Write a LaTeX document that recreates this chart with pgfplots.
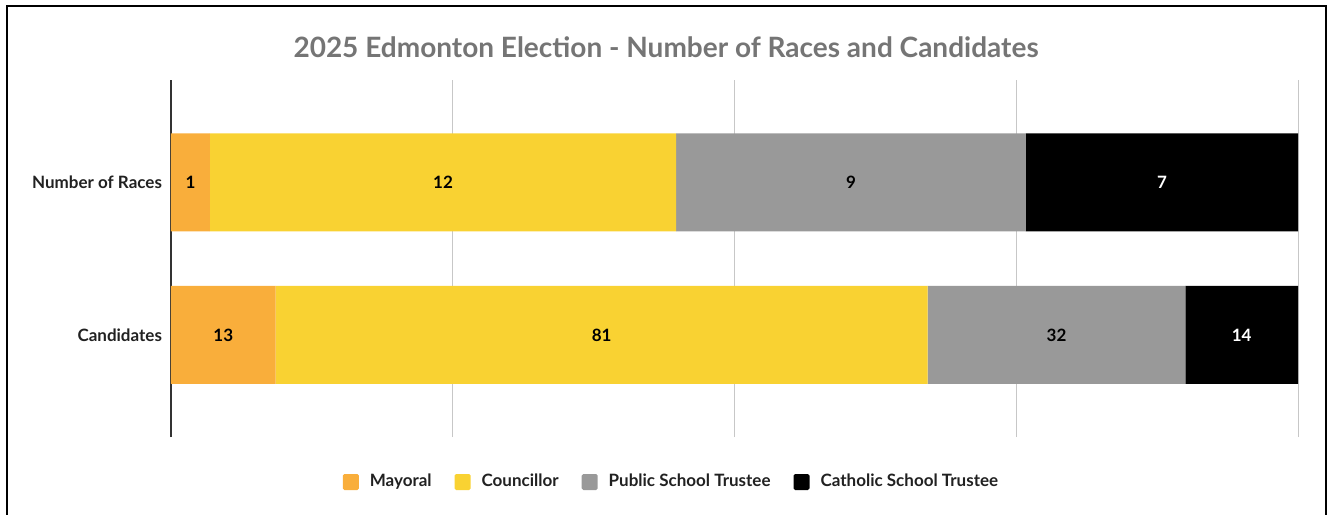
\documentclass[border=0pt]{standalone}
\usepackage{pgfplots}
\pgfplotsset{compat=1.18}
\usepackage{fontspec}
\setmainfont{Lato}

\definecolor{mayoral}{HTML}{F9AE3B}
\definecolor{councillor}{HTML}{F9D232}
\definecolor{public}{HTML}{999999}
\definecolor{catholic}{HTML}{000000}
\definecolor{titlegray}{HTML}{757575}
\definecolor{textdark}{HTML}{212121}

% shares of each row (%), counts shown as labels
% Number of Races: 1, 12, 9, 7 (of 29)
% Candidates: 13, 81, 32, 14 (of 140)

\begin{document}
\begin{tikzpicture}
  \path[use as bounding box] (0,0) rectangle (666.5pt,-257pt);
  \draw[line width=1pt] (3.25pt,-270pt) -- (3.25pt,-2.75pt) -- (662.75pt,-2.75pt) -- (662.75pt,-270pt);
  \node[font=\bfseries\fontsize{14}{16}\selectfont, text=titlegray] at (333pt,-23.5pt)
    {2025 Edmonton Election - Number of Races and Candidates};

  \pgfplotsset{
    base/.style={
      at={(85.5pt,-218.5pt)}, anchor=south west,
      scale only axis, width=563.5pt, height=178.5pt,
      xmin=0, xmax=100, ymin=-0.669, ymax=1.672,
    },
  }

  \begin{axis}[
      base,
      xbar stacked,
      bar width=49pt,
      axis y line*=left,
      axis x line*=bottom,
      x axis line style={draw=none},
      y axis line style={draw=black!80, line width=0.6pt},
      xtick={0,25,50,75,100},
      xticklabels={},
      major tick length=0pt,
      xmajorgrids=true,
      grid style={black!22, line width=0.5pt},
      ytick={0,1},
      yticklabels={Candidates, Number of Races},
      yticklabel style={font=\bfseries\fontsize{8.5}{10}\selectfont, text=textdark, xshift=-1pt},
      legend columns=4,
      legend style={
        at={(rel axis cs:0.5,0)}, anchor=center, xshift=-31pt, yshift=-22.5pt,
        draw=none, fill=none,
        font=\bfseries\fontsize{8.5}{10}\selectfont, text=textdark,
        /tikz/every even column/.append style={column sep=9.5pt},
      },
      legend image code/.code={\fill[#1, rounded corners=0.8pt] (0pt,-4pt) rectangle (8pt,4pt);},
      legend cell align=left,
    ]
    \addplot[fill=mayoral, draw=none] coordinates {(3.448,1) (9.286,0)};
    \addlegendentry{\hspace{3.5pt}Mayoral}
    \addplot[fill=councillor, draw=none] coordinates {(41.379,1) (57.857,0)};
    \addlegendentry{\hspace{3.5pt}Councillor}
    \addplot[fill=public, draw=none] coordinates {(31.034,1) (22.857,0)};
    \addlegendentry{\hspace{3.5pt}Public School Trustee}
    \addplot[fill=catholic, draw=none] coordinates {(24.138,1) (10.000,0)};
    \addlegendentry{\hspace{3.5pt}Catholic School Trustee}
  \end{axis}

  \begin{axis}[
      base,
      hide axis,
      point meta=explicit symbolic,
      nodes near coords,
      nodes near coords align=center,
      every node near coord/.append style={font=\bfseries\fontsize{8.5}{10}\selectfont},
    ]
    \addplot[only marks, mark=none, nodes near coords style={text=black}] coordinates {
      (1.724,1) [1]
      (24.138,1) [12]
      (60.345,1) [9]
      (4.643,0) [13]
      (38.214,0) [81]
      (78.571,0) [32]
    };
    \addplot[only marks, mark=none, nodes near coords style={text=white}] coordinates {
      (87.931,1) [7]
      (95.000,0) [14]
    };
  \end{axis}
\end{tikzpicture}
\end{document}
